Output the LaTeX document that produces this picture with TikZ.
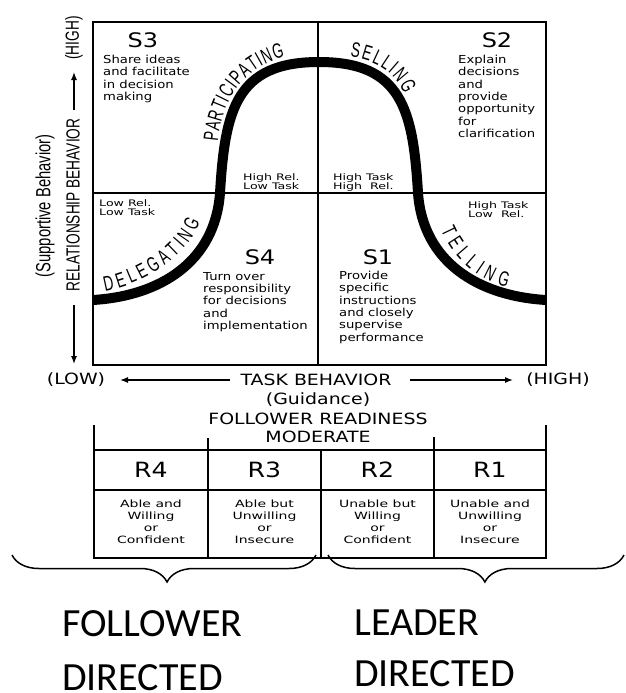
\documentclass[tikz,border=0pt]{standalone}
\usepackage{fontspec}
\setmainfont{DejaVu Sans}
\newfontfamily\widefont[FakeStretch=1.2]{DejaVu Sans}
\newfontfamily\widerfont[FakeStretch=1.4]{DejaVu Sans}
\newfontfamily\axisfont[FakeStretch=1.22]{DejaVu Sans}
\newfontfamily\narrowfont[FakeStretch=0.72]{Liberation Sans}
\newfontfamily\arcfont[FakeStretch=0.65]{Liberation Sans}
\newfontfamily\bigfont{Carlito}
\newcommand\arcsize{\arcfont\fontsize{21}{21}\selectfont}
\usetikzlibrary{decorations.text,decorations.pathreplacing,arrows.meta}
\tikzset{
  quadtxt/.style={anchor=north west, inner sep=0pt, align=left,
    font=\widefont\fontsize{11}{12.3}\selectfont},
  stag/.style={inner sep=0pt, font=\widefont\fontsize{20}{20}\selectfont},
  corner/.style={anchor=north west, inner sep=0pt, align=left,
    font=\widerfont\fontsize{9}{9.3}\selectfont},
  axislab/.style={inner sep=0pt, font=\axisfont\fontsize{15.5}{16}\selectfont},
  vlab/.style={rotate=90, inner sep=0pt, font=\narrowfont\fontsize{19}{19}\selectfont},
  celltxt/.style={anchor=north, inner sep=0pt, align=center,
    font=\widerfont\fontsize{10}{12}\selectfont},
  rtag/.style={inner sep=0pt, font=\widefont\fontsize{21}{21}\selectfont},
  bigtxt/.style={anchor=base west, inner sep=0pt, font=\bigfont\fontsize{40}{40}\selectfont},
  axisarrow/.style={-{Latex[length=8pt,width=6pt]}, line width=1.3pt},
  frame/.style={line width=2.8pt},
  grid/.style={line width=2pt},
  tableline/.style={line width=2pt},
  bracket/.style={line width=1.5pt, decorate},
  arclabel/.style={decorate, decoration={text along path, text align=fit to path,
    text={|\arcsize|#1}}},
}
\begin{document}
\begin{tikzpicture}[x=1pt,y=1pt]
\fill[white] (0,0) rectangle (626,-693);
\useasboundingbox (0,0) rectangle (626,-693);

% ---- quadrant chart ----
\draw[frame] (93,-22) rectangle (546,-365);
\draw[grid] (318,-22) -- (318,-365);
\draw[grid] (93,-193) -- (546,-193);

% leadership style curve
\draw[line width=10pt]
  (93,-300) .. controls (160,-296) and (215,-262) .. (220,-193)
  .. controls (225,-110) and (236,-62) .. (319,-62)
  .. controls (402,-62) and (413,-110) .. (418,-193)
  .. controls (423,-262) and (478,-296) .. (546,-300);

% style names along the curve
\path[arclabel=PARTICIPATING] (218,-142) .. controls (221,-100) and (245,-66) .. (285,-57);
\path[arclabel=SELLING] (350,-57) .. controls (375,-60) and (395,-72) .. (404,-94);
\path[arclabel=DELEGATING] (105,-291) .. controls (140,-285) and (185,-260) .. (200,-222);
\path[arclabel=TELLING] (441,-230) .. controls (455,-262) and (480,-281) .. (507,-287);

% quadrant tags and descriptions
\node[stag] (s3) at (143,-40) {S3};
\node[quadtxt] (s3txt) at (103,-55) {Share ideas\\and facilitate\\in decision\\making};
\node[stag] (s2) at (497,-40) {S2};
\node[quadtxt] (s2txt) at (458,-55) {Explain\\decisions\\and\\provide\\opportunity\\for\\clarification};
\node[stag] (s4) at (260,-257) {S4};
\node[quadtxt] (s4txt) at (203,-272) {Turn over\\responsibility\\for decisions\\and\\implementation};
\node[stag] (s1) at (378,-257) {S1};
\node[quadtxt] (s1txt) at (339,-271) {Provide\\specific\\instructions\\and closely\\supervise\\performance};

% corner notes
\node[corner] (hrlt) at (243,-173) {High Rel.\\Low Task};
\node[corner] (hthr) at (333,-173) {High Task\\High~ Rel.};
\node[corner] (lrlt) at (99,-199) {Low Rel.\\Low Task};
\node[corner] (htlr) at (468,-201) {High Task\\Low~ Rel.};

% ---- vertical axis ----
\node[vlab] (vhigh) at (74,-38) {(HIGH)};
\node[vlab] (relb) at (73,-205) {RELATIONSHIP BEHAVIOR};
\node[vlab, font=\narrowfont\fontsize{20.5}{20.5}\selectfont] (supp) at (45,-206) {(Supportive Behavior)};
\coordinate (vup0) at (74,-110);
\coordinate (vup1) at (74,-72);
\coordinate (vdn0) at (74,-305);
\coordinate (vdn1) at (74,-364);
\draw[axisarrow] (vup0) -- (vup1);
\draw[axisarrow] (vdn0) -- (vdn1);

% ---- horizontal axis ----
\node[axislab] (hlow) at (76,-380) {(LOW)};
\node[axislab] (task) at (316,-380) {TASK BEHAVIOR};
\node[axislab] (hhigh) at (558,-380) {(HIGH)};
\node[axislab] (guid) at (318,-400) {(Guidance)};
\node[axislab] (fr) at (318,-419) {FOLLOWER READINESS};
\node[axislab] (mod) at (318,-437) {MODERATE};
\coordinate (hl0) at (230,-380);
\coordinate (hl1) at (120,-380);
\coordinate (hr0) at (410,-380);
\coordinate (hr1) at (513,-380);
\draw[axisarrow] (hl0) -- (hl1);
\draw[axisarrow] (hr0) -- (hr1);

% ---- readiness table ----
\draw[tableline] (94,-425) -- (94,-558) -- (546,-558) -- (546,-425);
\draw[tableline] (94,-450) -- (546,-450);
\draw[tableline] (94,-490) -- (546,-490);
\draw[tableline] (208,-438) -- (208,-558);
\draw[tableline] (321,-450) -- (321,-558);
\draw[tableline] (434,-437) -- (434,-558);

\node[rtag] (r4) at (151,-470) {R4};
\node[rtag] (r3) at (264.5,-470) {R3};
\node[rtag] (r2) at (377.5,-470) {R2};
\node[rtag] (r1) at (490,-470) {R1};

\node[celltxt] (c4) at (151,-500) {Able and\\Willing\\or\\Confident};
\node[celltxt] (c3) at (264.5,-500) {Able but\\Unwilling\\or\\Insecure};
\node[celltxt] (c2) at (377.5,-500) {Unable but\\Willing\\or\\Confident};
\node[celltxt] (c1) at (490,-500) {Unable and\\Unwilling\\or\\Insecure};

% ---- braces and captions ----
\draw[bracket, decoration={brace, amplitude=27pt, aspect=0.49}] (316,-555) -- (12,-555);
\draw[bracket, decoration={brace, amplitude=27pt, aspect=0.47}] (624,-555) -- (328,-555);

\node[bigtxt] (fol) at (62,-636) {FOLLOWER};
\node[bigtxt] (fdir) at (62,-690) {DIRECTED};
\node[bigtxt] (lead) at (354,-635) {LEADER};
\node[bigtxt] (ldir) at (354,-686) {DIRECTED};
\end{tikzpicture}
\end{document}
